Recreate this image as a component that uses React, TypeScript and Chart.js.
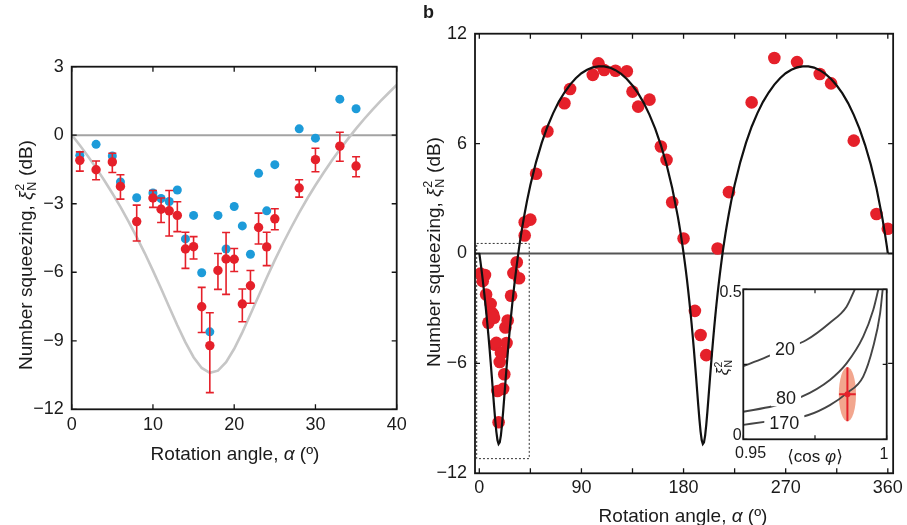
import React, { useEffect, useRef } from 'react';
import { Chart, registerables } from 'chart.js';

Chart.register(...registerables);

const FONT = "'Liberation Sans', 'DejaVu Sans', Arial, sans-serif";
const RED = '#e5202a';
const BLUE = '#1d9bd9';
const LIGHT_GRAY = '#c6c6c6';
const INK = '#1b1b1b';

// ---------------- Panel a (0–40 deg) ----------------
const angleA = [1, 3, 5, 6, 8, 10, 11, 12, 13, 14, 15, 16, 17, 18, 19, 20, 21, 22, 23, 24, 25, 28, 30, 33, 35];
const redA = [-1.10, -1.51, -1.17, -2.24, -3.78, -2.75, -3.24, -3.31, -3.51, -4.98, -4.88, -7.51, -9.21, -5.92, -5.42, -5.43, -7.39, -6.59, -4.04, -4.89, -3.66, -2.31, -1.07, -0.48, -1.35];
const redAHigh = [-0.73, -1.13, -0.79, -1.73, -3.06, -2.42, -2.75, -2.42, -2.91, -4.25, -4.44, -6.66, -7.77, -5.18, -4.26, -4.96, -6.73, -5.92, -3.41, -4.25, -3.22, -1.95, -0.57, 0.13, -0.94];
const redALow = [-1.57, -1.95, -1.63, -2.80, -4.63, -3.16, -3.82, -4.41, -4.22, -5.83, -5.42, -8.64, -11.27, -6.75, -6.97, -5.97, -8.17, -7.36, -4.76, -5.71, -4.14, -2.71, -1.60, -1.14, -1.82];
const blueA = [-0.88, -0.40, -0.91, -2.05, -2.74, -2.53, -2.77, -2.90, -2.40, -4.54, -3.51, -6.02, -8.61, -3.51, -4.98, -3.12, -3.97, -5.21, -1.67, -3.31, -1.29, 0.28, -0.13, 1.58, 1.16];
const theoryAngleA = [0, 1, 2, 3, 4, 5, 6, 7, 8, 9, 10, 11, 12, 13, 14, 15, 16, 17, 18, 19, 20, 21, 22, 23, 24, 25, 26, 27, 28, 29, 30, 31, 32, 33, 34, 35, 36, 37, 38, 39, 40];
const theoryA = [0.02, -0.44, -0.92, -1.43, -1.97, -2.54, -3.14, -3.78, -4.46, -5.17,
  -5.93, -6.71, -7.52, -8.32, -9.07, -9.72, -10.19, -10.40, -10.31, -9.94,
  -9.35, -8.63, -7.84, -7.04, -6.24, -5.47, -4.74, -4.05, -3.39, -2.77,
  -2.19, -1.64, -1.12, -0.63, -0.16, 0.29, 0.71, 1.11, 1.49, 1.85, 2.20];
const xTicksA = [0, 10, 20, 30, 40];
const yTicksA = [-12, -9, -6, -3, 0, 3];

// ---------------- Panel b (0–360 deg) ----------------
const angleBMore = [40, 40, 45, 50, 60, 75, 80, 100, 105, 110, 120, 130, 135, 140, 150, 160, 165, 170, 180, 190, 195, 200, 210, 220, 240, 260, 280, 300, 310, 330, 350, 360];
const squeezeBMore = [0.98, 1.71, 1.85, 4.35, 6.67, 8.2, 8.98, 9.75, 10.38, 10.02, 9.98, 9.95, 8.84, 8.02, 8.4, 5.84, 5.11, 2.8, 0.82, -3.13, -4.45, -5.55, 0.27, 3.35, 8.25, 10.67, 10.45, 9.8, 9.29, 6.16, 2.16, 1.35];
const theoryAngleB = [0, 1, 2, 3, 4, 5, 6, 7, 8, 9, 10, 11, 12, 13, 14, 15, 16, 17, 18, 19, 20, 21, 22, 23, 24, 25, 26, 27, 28, 29, 30, 31, 32, 33, 34, 35, 36, 37, 38, 39, 40, 42,
  45, 50, 55, 60, 65, 70, 75, 80, 85, 90, 95, 100, 105, 110, 115, 120, 125, 130, 135, 140, 145, 150, 155, 160, 165, 170, 175, 176, 177, 178, 179,
  180, 181, 182, 183, 184, 185, 186, 187, 188, 189, 190, 191, 192, 193, 194, 195, 196, 197, 198, 199, 200, 201, 202, 203, 204, 205, 206, 207, 208, 209, 210, 211, 212, 213, 214, 215, 216, 217, 218, 219, 220, 222,
  225, 230, 235, 240, 245, 250, 255, 260, 265, 270, 275, 280, 285, 290, 295, 300, 305, 310, 315, 320, 325, 330, 335, 340, 345, 350, 355, 356, 357, 358, 359, 360];
const theoryB = [0.02, -0.44, -0.92, -1.43, -1.97, -2.54, -3.14, -3.78, -4.46, -5.17,
  -5.93, -6.71, -7.52, -8.32, -9.07, -9.72, -10.19, -10.40, -10.31, -9.94,
  -9.35, -8.63, -7.84, -7.04, -6.24, -5.47, -4.74, -4.05, -3.39, -2.77,
  -2.19, -1.64, -1.12, -0.63, -0.16, 0.29, 0.71, 1.11, 1.49, 1.85,
  2.20, 2.86, 3.74, 4.99, 6.04, 6.92, 7.65, 8.28, 8.79, 9.22,
  9.57, 9.84, 10.03, 10.16, 10.22, 10.22, 10.15, 10.01, 9.81, 9.53,
  9.17, 8.74, 8.21, 7.57, 6.82, 5.92, 4.86, 3.57, 2.00, 1.64,
  1.26, 0.87, 0.46,
  0.02, -0.44, -0.92, -1.43, -1.97, -2.54, -3.14, -3.78, -4.46, -5.17,
  -5.93, -6.71, -7.52, -8.32, -9.07, -9.72, -10.19, -10.40, -10.31, -9.94,
  -9.35, -8.63, -7.84, -7.04, -6.24, -5.47, -4.74, -4.05, -3.39, -2.77,
  -2.19, -1.64, -1.12, -0.63, -0.16, 0.29, 0.71, 1.11, 1.49, 1.85,
  2.20, 2.86, 3.74, 4.99, 6.04, 6.92, 7.65, 8.28, 8.79, 9.22,
  9.57, 9.84, 10.03, 10.16, 10.22, 10.22, 10.15, 10.01, 9.81, 9.53,
  9.17, 8.74, 8.21, 7.57, 6.82, 5.92, 4.86, 3.57, 2.00, 1.64,
  1.26, 0.87, 0.46, 0.02];
const xTicksB = [0, 45, 90, 135, 180, 225, 270, 315, 360];
const yTicksB = [-12, -6, 0, 6, 12];
const xRangeB = [-3.8, 364.7];
const zoomBoxX = [-2.3, 44, 44, -2.3, -2.3];
const zoomBoxY = [0.55, 0.55, -11.2, -11.2, 0.55];

// ---------------- Inset ----------------
const cos20 = [0.95, 0.957, 0.9645, 0.972, 0.98, 0.986, 0.9889];
const xi20 = [0.244, 0.27, 0.30, 0.331, 0.387, 0.442, 0.5];
const cos80 = [0.95, 0.9605, 0.9649, 0.9704, 0.9802, 0.986, 0.9918, 0.9953, 0.9971];
const xi80 = [0.092, 0.111, 0.125, 0.142, 0.198, 0.253, 0.342, 0.431, 0.5];
const cos170 = [0.95, 0.958, 0.9643, 0.9727, 0.9802, 0.986, 0.9918, 0.9953, 0.9977, 0.9986];
const xi170 = [0.048, 0.059, 0.067, 0.081, 0.114, 0.153, 0.209, 0.309, 0.42, 0.5];
const contourNames = ['20', '80', '170'];
const contourLabelCos = [0.9645, 0.9649, 0.9643];
const contourLabelXi = [0.30, 0.137, 0.055];
const measCos = 0.9863;
const measXi = 0.15;
const measCosErr = 0.0029;
const measXiErr = 0.09;
const xTicksInset = [0.95, 0.975, 1];
const yTicksInset = [0, 0.25, 0.5];

// ---------------- helpers ----------------
const xy = (xs: number[], ys: number[]) => xs.map((x, i) => ({ x, y: ys[i] }));
const fmtNum = (v: number) => (v < 0 ? '\u2212' + Math.abs(v) : String(v));

type Seg = { t?: string; it?: boolean; b?: boolean; sup?: string; sub?: string };
const fontOf = (size: number, it?: boolean, b?: boolean) => `${it ? 'italic ' : ''}${b ? 'bold ' : ''}${size}px ${FONT}`;

function segW(ctx: CanvasRenderingContext2D, s: Seg, size: number) {
  if (s.t !== undefined) {
    ctx.font = fontOf(size, s.it, s.b);
    return ctx.measureText(s.t).width;
  }
  ctx.font = fontOf(size * 0.66);
  return Math.max(ctx.measureText(s.sup || '').width, ctx.measureText(s.sub || '').width) + size * 0.06;
}

function drawRich(ctx: CanvasRenderingContext2D, segs: Seg[], x: number, y: number, size: number, align = 'center') {
  const ws = segs.map((s) => segW(ctx, s, size));
  const total = ws.reduce((p, c) => p + c, 0);
  let cx = align === 'center' ? x - total / 2 : align === 'right' ? x - total : x;
  ctx.textAlign = 'left';
  ctx.textBaseline = 'alphabetic';
  segs.forEach((s, i) => {
    if (s.t !== undefined) {
      ctx.font = fontOf(size, s.it, s.b);
      ctx.fillText(s.t, cx, y);
    } else {
      ctx.font = fontOf(size * 0.66);
      if (s.sup) ctx.fillText(s.sup, cx + size * 0.03, y - size * 0.42);
      if (s.sub) ctx.fillText(s.sub, cx + size * 0.03, y + size * 0.2);
    }
    cx += ws[i];
  });
}

const yTitleSegs: Seg[] = [{ t: 'Number squeezing, ' }, { t: '\u03BE', it: true }, { sup: '2', sub: 'N' }, { t: ' (dB)' }];
const xTitleSegs: Seg[] = [{ t: 'Rotation angle, ' }, { t: '\u03B1', it: true }, { t: ' (\u00BA)' }];

function axis(min: number, max: number, ticks: number[], o: any) {
  return {
    type: 'linear',
    min,
    max,
    afterBuildTicks: (s: any) => {
      s.ticks = ticks.map((v) => ({ value: v }));
    },
    afterFit: (s: any) => {
      if (o.w !== undefined) s.width = o.w;
      if (o.h !== undefined) s.height = o.h;
    },
    grid: { display: false, drawTicks: false },
    border: { display: false },
    ticks: {
      display: o.labels !== false,
      font: { family: FONT, size: o.size || 18 },
      color: INK,
      padding: o.pad ?? 6,
      autoSkip: false,
      maxRotation: 0,
      minRotation: 0,
      callback: o.fmt || ((v: number) => fmtNum(v)),
    },
  };
}

const frameTicks = {
  id: 'frameTicks',
  afterDatasetsDraw(chart: any, _a: any, opts: any) {
    const { ctx, chartArea: a } = chart;
    const xs = chart.scales.x;
    const ys = chart.scales.y;
    const len = opts.len;
    ctx.save();
    ctx.strokeStyle = opts.color;
    ctx.lineWidth = opts.tickWidth;
    ctx.beginPath();
    xs.ticks.forEach((t: any) => {
      const p = xs.getPixelForValue(t.value);
      ctx.moveTo(p, a.bottom);
      ctx.lineTo(p, a.bottom - len);
      ctx.moveTo(p, a.top);
      ctx.lineTo(p, a.top + len);
    });
    ys.ticks.forEach((t: any) => {
      const p = ys.getPixelForValue(t.value);
      ctx.moveTo(a.left, p);
      ctx.lineTo(a.left + len, p);
      ctx.moveTo(a.right, p);
      ctx.lineTo(a.right - len, p);
    });
    ctx.stroke();
    ctx.lineWidth = opts.frameWidth;
    ctx.strokeRect(a.left, a.top, a.right - a.left, a.bottom - a.top);
    ctx.restore();
  },
};

const errorBarsA = {
  id: 'errorBarsA',
  beforeDatasetDraw(chart: any, args: any) {
    if (args.index !== 0) return;
    const { ctx } = chart;
    const xs = chart.scales.x;
    const ys = chart.scales.y;
    ctx.save();
    ctx.strokeStyle = RED;
    ctx.lineWidth = 1.6;
    ctx.beginPath();
    angleA.forEach((a, i) => {
      const px = xs.getPixelForValue(a);
      const t = ys.getPixelForValue(redAHigh[i]);
      const b = ys.getPixelForValue(redALow[i]);
      ctx.moveTo(px, t);
      ctx.lineTo(px, b);
      ctx.moveTo(px - 4, t);
      ctx.lineTo(px + 4, t);
      ctx.moveTo(px - 4, b);
      ctx.lineTo(px + 4, b);
    });
    ctx.stroke();
    ctx.restore();
  },
};

const titlesA = {
  id: 'titlesA',
  afterDraw(chart: any) {
    const { ctx } = chart;
    ctx.save();
    ctx.fillStyle = INK;
    drawRich(ctx, xTitleSegs, 235, 459.7, 19, 'center');
    ctx.translate(32, 255);
    ctx.rotate(-Math.PI / 2);
    drawRich(ctx, yTitleSegs, 0, 0, 19, 'center');
    ctx.restore();
  },
};

const titlesB = {
  id: 'titlesB',
  afterDraw(chart: any) {
    const { ctx } = chart;
    ctx.save();
    ctx.fillStyle = INK;
    drawRich(ctx, xTitleSegs, 263, 521.7, 19, 'center');
    drawRich(ctx, [{ t: 'b', b: true }], 3, 18, 18, 'left');
    ctx.translate(20, 252);
    ctx.rotate(-Math.PI / 2);
    drawRich(ctx, yTitleSegs, 0, 0, 19, 'center');
    ctx.restore();
  },
};

const insetDecor = {
  id: 'insetDecor',
  beforeDraw(chart: any) {
    const { ctx, chartArea: a } = chart;
    ctx.save();
    ctx.fillStyle = '#ffffff';
    ctx.fillRect(a.left, a.top, a.right - a.left, a.bottom - a.top);
    ctx.restore();
  },
  beforeDatasetsDraw(chart: any) {
    const { ctx } = chart;
    const xs = chart.scales.x;
    const ys = chart.scales.y;
    const cx = xs.getPixelForValue(measCos);
    const cy = ys.getPixelForValue(measXi);
    const rx = Math.abs(xs.getPixelForValue(measCos + 0.003) - cx);
    const ry = Math.abs(ys.getPixelForValue(measXi + measXiErr) - cy);
    ctx.save();
    ctx.fillStyle = '#f2a68e';
    ctx.beginPath();
    ctx.ellipse(cx, cy, rx, ry, 0, 0, Math.PI * 2);
    ctx.fill();
    ctx.restore();
  },
  afterDatasetsDraw(chart: any) {
    const { ctx } = chart;
    const xs = chart.scales.x;
    const ys = chart.scales.y;
    const cx = xs.getPixelForValue(measCos);
    const cy = ys.getPixelForValue(measXi);
    ctx.save();
    ctx.strokeStyle = RED;
    ctx.lineWidth = 2;
    ctx.beginPath();
    ctx.moveTo(cx, ys.getPixelForValue(measXi + measXiErr));
    ctx.lineTo(cx, ys.getPixelForValue(measXi - measXiErr));
    ctx.moveTo(xs.getPixelForValue(measCos - measCosErr), cy);
    ctx.lineTo(xs.getPixelForValue(measCos + measCosErr), cy);
    ctx.stroke();
    ctx.fillStyle = RED;
    ctx.beginPath();
    ctx.arc(cx, cy, 3, 0, Math.PI * 2);
    ctx.fill();
    // contour labels with white gaps
    ctx.font = fontOf(18);
    ctx.textAlign = 'center';
    ctx.textBaseline = 'middle';
    contourNames.forEach((n, i) => {
      const px = xs.getPixelForValue(contourLabelCos[i]);
      const py = ys.getPixelForValue(contourLabelXi[i]);
      const w = ctx.measureText(n).width;
      ctx.fillStyle = '#ffffff';
      ctx.fillRect(px - w / 2 - 5, py - 8, w + 10, 16);
      ctx.fillStyle = INK;
      ctx.fillText(n, px, py + 1);
    });
    ctx.restore();
  },
  afterDraw(chart: any) {
    const { ctx, chartArea: a } = chart;
    const xs = chart.scales.x;
    const ys = chart.scales.y;
    ctx.save();
    ctx.fillStyle = INK;
    drawRich(ctx, [{ t: '0.5' }], a.left - 1.6, ys.getPixelForValue(0.5) + 7.4, 16, 'right');
    drawRich(ctx, [{ t: '0' }], a.left - 1.6, ys.getPixelForValue(0) + 0.7, 16, 'right');
    drawRich(ctx, [{ t: '0.95' }], a.left - 8.3, a.bottom + 19, 16, 'left');
    drawRich(ctx, [{ t: '1' }], a.right + 1.6, a.bottom + 19.7, 16, 'right');
    drawRich(ctx, [{ t: '\u27E8cos ' }, { t: '\u03C6', it: true }, { t: '\u27E9' }], xs.getPixelForValue(0.975), a.bottom + 22.4, 17, 'center');
    ctx.translate(a.left - 15, ys.getPixelForValue(0.24));
    ctx.rotate(-Math.PI / 2);
    drawRich(ctx, [{ t: '\u03BE', it: true }, { sup: '2', sub: 'N' }], 0, 0, 16, 'center');
    ctx.restore();
  },
};

const baseOptions = {
  responsive: false,
  maintainAspectRatio: false,
  animation: false,
  events: [],
};

function cfgA(): any {
  return {
    type: 'scatter',
    data: {
      datasets: [
        { data: xy(angleA, redA), pointRadius: 4.7, pointBackgroundColor: RED, pointBorderWidth: 0, backgroundColor: RED, borderColor: RED },
        { data: xy(angleA, blueA), pointRadius: 4.5, pointBackgroundColor: BLUE, pointBorderWidth: 0, backgroundColor: BLUE, borderColor: BLUE },
        { data: xy(theoryAngleA, theoryA), showLine: true, borderColor: LIGHT_GRAY, borderWidth: 2.6, pointRadius: 0, tension: 0 },
        { data: xy([xTicksA[0], xTicksA[xTicksA.length - 1]], [0, 0]), showLine: true, borderColor: '#a3a3a3', borderWidth: 2, pointRadius: 0 },
      ],
    },
    options: {
      ...baseOptions,
      layout: { padding: { left: 0, top: 66.7, right: 23.3, bottom: 0 } },
      plugins: {
        legend: { display: false },
        tooltip: { enabled: false },
        frameTicks: { len: 5, tickWidth: 1.3, frameWidth: 1.8, color: '#151515' },
      },
      scales: {
        x: axis(0, 40, xTicksA, { h: 525 - 409.3, pad: 5 }),
        y: axis(-12, 3, yTicksA, { w: 71.7, pad: 8 }),
      },
    },
    plugins: [errorBarsA, frameTicks, titlesA],
  };
}

function cfgB(): any {
  return {
    type: 'scatter',
    data: {
      datasets: [
        { data: xy(theoryAngleB, theoryB), showLine: true, borderColor: '#111111', borderWidth: 2.2, pointRadius: 0, tension: 0 },
        { data: xy([...angleA, ...angleBMore], [...redA, ...squeezeBMore]), pointRadius: 6.3, pointBackgroundColor: RED, pointBorderWidth: 0, backgroundColor: RED, borderColor: RED },
        { data: xy(xRangeB, [0, 0]), showLine: true, borderColor: '#555555', borderWidth: 2, pointRadius: 0 },
        { data: xy(zoomBoxX, zoomBoxY), showLine: true, borderColor: '#333333', borderWidth: 1, borderDash: [2, 2], pointRadius: 0 },
      ],
    },
    options: {
      ...baseOptions,
      layout: { padding: { left: 0, top: 33.7, right: 13.7, bottom: 0 } },
      plugins: {
        legend: { display: false },
        tooltip: { enabled: false },
        frameTicks: { len: 5, tickWidth: 1.3, frameWidth: 1.8, color: '#151515' },
      },
      scales: {
        x: axis(xRangeB[0], xRangeB[1], xTicksB, { h: 525 - 473.3, pad: 4, fmt: (v: number) => (v % 90 === 0 ? String(v) : '') }),
        y: axis(-12, 12, yTicksB, { w: 55, pad: 8 }),
      },
    },
    plugins: [frameTicks, titlesB],
  };
}

function cfgC(): any {
  const curve = { showLine: true, borderColor: '#454545', borderWidth: 1.9, pointRadius: 0, cubicInterpolationMode: 'monotone' };
  return {
    type: 'scatter',
    data: {
      datasets: [
        { ...curve, data: xy(cos20, xi20) },
        { ...curve, data: xy(cos80, xi80) },
        { ...curve, data: xy(cos170, xi170) },
      ],
    },
    options: {
      ...baseOptions,
      layout: { padding: { left: 0, top: 19.3, right: 20.3, bottom: 0 } },
      plugins: {
        legend: { display: false },
        tooltip: { enabled: false },
        frameTicks: { len: 4, tickWidth: 1.2, frameWidth: 1.8, color: '#151515' },
      },
      scales: {
        x: axis(0.95, 1, xTicksInset, { h: 200 - 169.3, labels: false }),
        y: axis(0, 0.5, yTicksInset, { w: 43.3, labels: false }),
      },
    },
    plugins: [insetDecor, frameTicks],
  };
}

export default function App() {
  const refA = useRef<HTMLCanvasElement>(null);
  const refB = useRef<HTMLCanvasElement>(null);
  const refC = useRef<HTMLCanvasElement>(null);

  useEffect(() => {
    const charts = [
      new Chart(refA.current as HTMLCanvasElement, cfgA()),
      new Chart(refB.current as HTMLCanvasElement, cfgB()),
      new Chart(refC.current as HTMLCanvasElement, cfgC()),
    ];
    return () => charts.forEach((c) => c.destroy());
  }, []);

  return (
    <div style={{ position: 'absolute', left: 0, top: 0, width: 907, height: 525, background: '#ffffff', overflow: 'hidden' }}>
      <canvas ref={refA} width={420} height={525} style={{ position: 'absolute', left: 0, top: 0, width: 420, height: 525 }} />
      <canvas ref={refB} width={487} height={525} style={{ position: 'absolute', left: 420, top: 0, width: 487, height: 525 }} />
      <canvas ref={refC} width={207} height={200} style={{ position: 'absolute', left: 700, top: 270, width: 207, height: 200 }} />
    </div>
  );
}
